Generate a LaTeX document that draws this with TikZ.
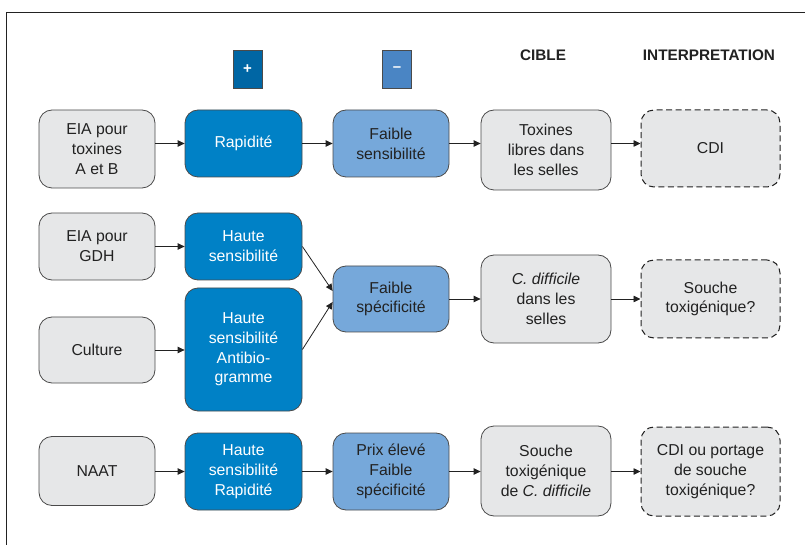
\documentclass[tikz,border=0pt]{standalone}
\usepackage{fontspec}
\setmainfont{Liberation Sans}
\usetikzlibrary{arrows.meta,calc}
\definecolor{boxgrey}{HTML}{E6E7E8}
\definecolor{edgegrey}{HTML}{4A4A4A}
\definecolor{darkblue}{HTML}{0081C6}
\definecolor{lightblue}{HTML}{76A8DA}
\definecolor{plusblue}{HTML}{0066A4}
\definecolor{minusblue}{HTML}{4A85C4}
\definecolor{txt}{HTML}{222222}
\begin{document}
\begin{tikzpicture}[x=1pt,y=-1pt,
  base/.style={rectangle,rounded corners=13pt,draw=edgegrey,line width=0.8pt,align=center,
    font=\fontsize{15.8}{19.8}\selectfont,inner sep=0pt},
  greybox/.style={base,fill=boxgrey,text=txt},
  dashbox/.style={base,fill=boxgrey,text=txt,draw=txt,line width=1pt,dash pattern=on 6pt off 3.5pt},
  darkbox/.style={base,fill=darkblue,text=white},
  lightbox/.style={base,fill=lightblue,text=txt},
  sq/.style={rectangle,draw=edgegrey,line width=0.6pt,minimum width=29pt,minimum height=38pt,
    inner sep=0pt,text=white,font=\bfseries\fontsize{15}{17}\selectfont},
  head/.style={text=txt,font=\bfseries\fontsize{15.3}{17}\selectfont,inner sep=0pt},
  arr/.style={draw=txt,line width=0.8pt,-{Triangle[length=7pt,width=6.5pt]}}
]
\useasboundingbox (0,0) rectangle (806,545);
\draw[txt,line width=1pt] (6,545) -- (6,13) -- (805,13);

% headers
\node[sq,fill=plusblue] (plus) at (247.5,69) {+};
\node[sq,fill=minusblue] (minus) at (397,69) {\textendash};
\node[head] (cible) at (543,55) {CIBLE};
\node[head] (interp) at (709,55) {INTERPRETATION};

% row 1
\node[greybox,minimum width=116pt,minimum height=78pt] (eia1) at (97,149) {EIA pour\\toxines\\A et B};
\node[darkbox,minimum width=117pt,minimum height=67pt] (rap) at (243.5,143.5) {Rapidité};
\node[lightbox,minimum width=116pt,minimum height=67pt] (fsens) at (391,143.5) {Faible\\sensibilité};
\node[greybox,minimum width=130pt,minimum height=80pt] (tox) at (546,150) {Toxines\\libres dans\\les selles};
\node[dashbox,minimum width=139pt,minimum height=77pt] (cdi) at (710.5,148.5) {CDI};

\draw[arr] (eia1.east |- rap.west) -- (rap.west);
\draw[arr] (rap.east) -- (fsens.west);
\draw[arr] (fsens.east) -- (tox.west |- fsens.east);
\draw[arr] (tox.east |- fsens.east) -- (cdi.west |- fsens.east);

% row 2
\node[greybox,minimum width=116pt,minimum height=67pt] (eia2) at (97,246.5) {EIA pour\\GDH};
\node[darkbox,minimum width=117pt,minimum height=67pt] (hs1) at (243.5,246.5) {Haute\\sensibilité};
\node[greybox,minimum width=116pt,minimum height=66pt] (cult) at (97,350) {Culture};
\node[darkbox,minimum width=117pt,minimum height=123pt] (hs2) at (243.5,349.5) {Haute\\sensibilité\\Antibio-\\gramme};
\node[lightbox,minimum width=116pt,minimum height=66pt] (fspec) at (391,299) {Faible\\spécificité};
\node[greybox,minimum width=130pt,minimum height=88pt] (cdiff) at (546,299) {\itshape C. difficile\\dans les\\selles};
\node[dashbox,minimum width=139pt,minimum height=78pt] (souche) at (710.5,299) {Souche\\toxigénique?};

\coordinate (in1) at ($(fspec.west)+(0,-8)$);
\coordinate (in2) at ($(fspec.west)+(0,3)$);
\draw[arr] (eia2.east) -- (hs1.west);
\draw[arr] (cult.east) -- (cult.east -| hs2.west);
\draw[arr] (hs1.east) -- (in1);
\draw[arr] (hs2.east) -- (in2);
\draw[arr] (fspec.east) -- (cdiff.west);
\draw[arr] (cdiff.east) -- (souche.west);

% row 3
\node[greybox,minimum width=116pt,minimum height=69pt] (naat) at (97,471) {NAAT};
\node[darkbox,minimum width=117pt,minimum height=77pt] (hs3) at (243.5,471.5) {Haute\\sensibilité\\Rapidité};
\node[lightbox,minimum width=116pt,minimum height=77pt] (prix) at (391,471.5) {Prix élevé\\Faible\\spécificité};
\node[greybox,minimum width=130pt,minimum height=90pt] (souche2) at (546,471) {Souche\\toxigénique\\de \textit{C. difficile}};
\node[dashbox,minimum width=139pt,minimum height=89pt] (cdi2) at (710.5,471.5) {CDI ou portage\\de souche\\toxigénique?};

\draw[arr] (naat.east |- hs3.west) -- (hs3.west);
\draw[arr] (hs3.east) -- (prix.west);
\draw[arr] (prix.east) -- (souche2.west |- prix.east);
\draw[arr] (souche2.east |- prix.east) -- (cdi2.west |- prix.east);
\end{tikzpicture}
\end{document}
